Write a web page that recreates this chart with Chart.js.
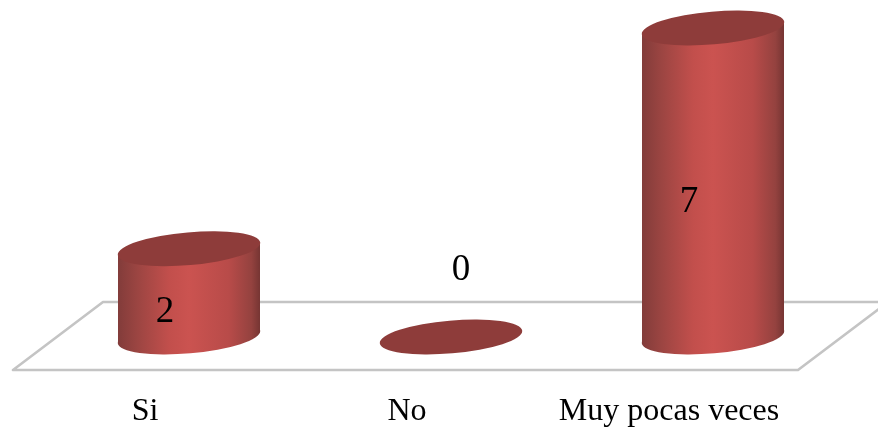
<!DOCTYPE html>
<html>
<head>
<meta charset="utf-8">
<title>Si / No / Muy pocas veces</title>
<script src="https://cdn.jsdelivr.net/npm/chart.js@4"></script>
<style>
  html, body { margin: 0; padding: 0; background: #fff; }
  canvas { display: block; }
</style>
</head>
<body>
<canvas id="cylinder-chart" width="878" height="430"></canvas>
<script>
const categories = ['Si', 'No', 'Muy pocas veces'];
const counts = [2, 0, 7];

const FONT = '"Liberation Serif", "Times New Roman", serif';
const TILT = -5 * Math.PI / 180;
const CAP_RY = 16.4;
const CAP_DROP = 5.8; // how far the ellipse's side points sit off its centre

// grey floor under the cylinders
const floorPlugin = {
  id: 'floor',
  beforeDatasetsDraw(chart) {
    const ctx = chart.ctx;
    const y0 = chart.scales.y.getPixelForValue(0);
    ctx.save();
    ctx.strokeStyle = '#c4c4c4';
    ctx.lineWidth = 2.6;
    ctx.lineJoin = 'round';
    ctx.beginPath();
    ctx.moveTo(888, y0 - 35);
    ctx.lineTo(103, y0 - 35);
    ctx.lineTo(13, y0 + 33);
    ctx.lineTo(798, y0 + 33);
    ctx.lineTo(888, y0 - 35);
    ctx.stroke();
    ctx.restore();
  },
};

// bars come out as shaded cylinders, using the positions the bar elements got
const cylinderPlugin = {
  id: 'cylinders',
  afterDatasetsDraw(chart) {
    const ctx = chart.ctx;
    chart.getDatasetMeta(0).data.forEach((bar, i) => {
      const half = bar.width / 2;
      const left = bar.x - half;
      const right = bar.x + half;
      ctx.save();
      if (counts[i] > 0) {
        const shade = ctx.createLinearGradient(left, 0, right, 0);
        shade.addColorStop(0, '#823c3a');
        shade.addColorStop(0.14, '#9c4542');
        shade.addColorStop(0.36, '#c24f4c');
        shade.addColorStop(0.5, '#cb5350');
        shade.addColorStop(0.78, '#b84b49');
        shade.addColorStop(0.94, '#94423f');
        shade.addColorStop(1, '#763533');
        ctx.fillStyle = shade;
        ctx.beginPath();
        ctx.moveTo(left, bar.y + CAP_DROP);
        ctx.lineTo(left, bar.base + CAP_DROP);
        ctx.lineTo(right, bar.base - CAP_DROP);
        ctx.lineTo(right, bar.y - CAP_DROP);
        ctx.closePath();
        ctx.fill();
        ctx.beginPath();
        ctx.ellipse(bar.x, bar.base, half + 0.5, CAP_RY, TILT, 0, Math.PI * 2);
        ctx.fill();
      }
      ctx.fillStyle = '#8e3c3a';
      ctx.beginPath();
      ctx.ellipse(bar.x, bar.y, half + 0.5, CAP_RY, TILT, 0, Math.PI * 2);
      ctx.fill();

      // value label: inside the cylinder, or floating over an empty one
      ctx.fillStyle = '#000';
      ctx.font = '37px ' + FONT;
      ctx.textAlign = 'center';
      ctx.textBaseline = 'middle';
      if (counts[i] > 0) {
        ctx.fillText(counts[i], bar.x - 24, (bar.y + bar.base) / 2 + 19.5);
      } else {
        ctx.fillText(counts[i], bar.x + 10, bar.y - 66.5);
      }
      ctx.restore();
    });
  },
};

new Chart(document.getElementById('cylinder-chart'), {
  type: 'bar',
  data: {
    labels: categories,
    datasets: [
      {
        data: counts,
        backgroundColor: 'rgba(0,0,0,0)',
        borderWidth: 0,
        barThickness: 142,
      },
    ],
  },
  options: {
    responsive: false,
    animation: false,
    layout: { padding: { top: 28, left: 58, right: 34, bottom: 0 } },
    plugins: { legend: { display: false }, tooltip: { enabled: false } },
    scales: {
      x: {
        // tickLength only pushes the labels down, the grid itself stays hidden
        grid: { display: false, drawTicks: true, tickLength: 55 },
        border: { display: false },
        afterFit(scale) { scale.height = 93; },
        ticks: {
          color: '#000',
          font: { family: FONT, size: 32 },
          padding: 0,
          labelOffset: -44,
          maxRotation: 0,
          autoSkip: false,
        },
      },
      y: { display: false, min: 0, max: 7 },
    },
  },
  plugins: [floorPlugin, cylinderPlugin],
});
</script>
</body>
</html>
